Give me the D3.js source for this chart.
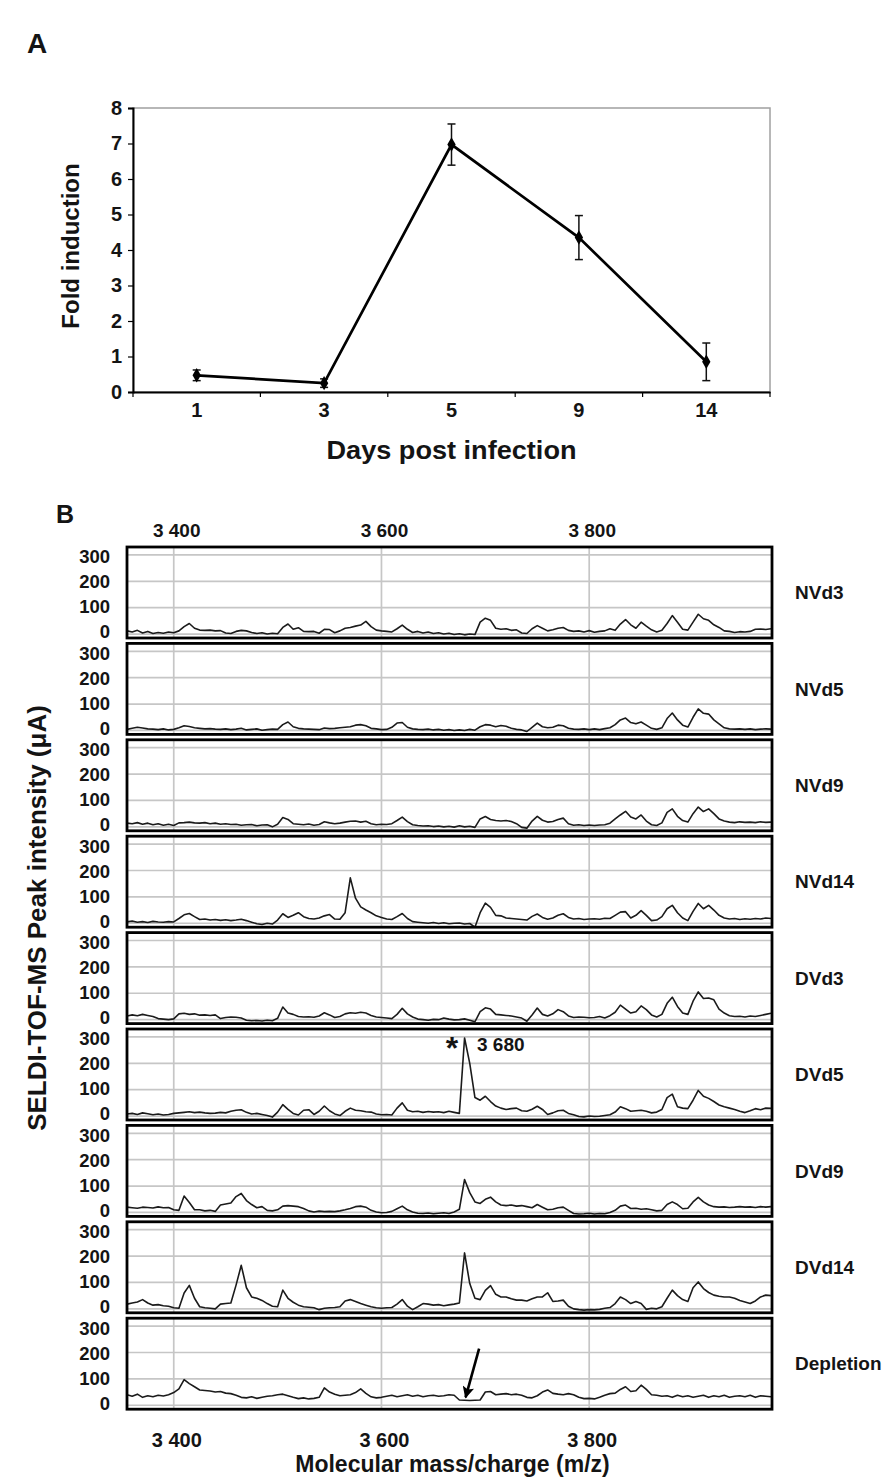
<!DOCTYPE html>
<html><head><meta charset="utf-8">
<script src="https://cdn.jsdelivr.net/npm/d3@7"></script>
<style>
body{margin:0;background:#fff}
svg{display:block}
text{font-family:"Liberation Sans",Arial,Helvetica,sans-serif;font-weight:bold;fill:#141414}
</style>
</head><body>
<svg id="chart" width="896" height="1477"></svg>
<script>
// ---------- Panel A data ----------
const days = ["1","3","5","9","14"];
const foldMean = [0.47, 0.25, 6.97, 4.35, 0.85];
const foldErr  = [0.15, 0.12, 0.58, 0.62, 0.53];
const foldTicks = [0,1,2,3,4,5,6,7,8];

// ---------- Panel B data ----------
const sampleNames = ["NVd3","NVd5","NVd9","NVd14","DVd3","DVd5","DVd9","DVd14","Depletion"];
const intensityTicks = [0,100,200,300];
const mzTicks = [3400,3600,3800];
const mzTickLabels = ["3 400","3 600","3 800"];
const mz = [
3355,3360,3365,3370,3375,3380,3385,3390,3395,3400,
3405,3410,3415,3420,3425,3430,3435,3440,3445,3450,
3455,3460,3465,3470,3475,3480,3485,3490,3495,3500,
3505,3510,3515,3520,3525,3530,3535,3540,3545,3550,
3555,3560,3565,3570,3575,3580,3585,3590,3595,3600,
3605,3610,3615,3620,3625,3630,3635,3640,3645,3650,
3655,3660,3665,3670,3675,3680,3685,3690,3695,3700,
3705,3710,3715,3720,3725,3730,3735,3740,3745,3750,
3755,3760,3765,3770,3775,3780,3785,3790,3795,3800,
3805,3810,3815,3820,3825,3830,3835,3840,3845,3850,
3855,3860,3865,3870,3875,3880,3885,3890,3895,3900,
3905,3910,3915,3920,3925,3930,3935,3940,3945,3950,
3955,3960,3965,3970,3975];
const nvd3 = [
12,8,14,4,10,2,6,3,8,5,
12,28,40,22,15,14,15,12,13,4,
2,10,14,12,6,2,5,0,3,1,
25,38,18,24,10,9,10,3,18,17,
5,12,22,25,30,34,48,28,15,12,
10,8,20,34,18,6,10,4,8,2,
5,0,3,-2,1,-3,0,-2,45,60,
52,22,18,20,14,16,4,2,20,32,
22,12,16,22,25,14,10,12,8,13,
7,10,12,20,14,38,55,35,22,45,
30,16,8,14,40,70,45,18,15,45,
75,58,52,35,25,12,10,6,9,8,
10,18,19,17,20];
const nvd5 = [
4,8,12,9,6,5,3,6,2,4,
10,18,15,10,8,6,7,5,4,6,
3,5,8,2,4,6,1,3,5,4,
22,32,14,8,6,5,4,3,9,7,
8,10,12,14,20,22,18,8,6,3,
4,12,28,30,12,6,4,3,5,2,
4,1,3,0,2,0,4,1,14,22,
20,14,19,16,8,4,2,-4,12,28,
14,10,12,20,18,8,5,4,6,3,
6,3,7,10,22,40,47,30,25,32,
20,8,4,10,45,66,40,20,13,50,
82,65,62,40,25,10,6,5,6,4,
6,3,5,6,5];
const nvd9 = [
14,12,16,10,14,8,12,6,10,5,
15,16,18,15,14,16,12,14,10,12,
9,10,6,8,9,4,7,8,0,10,
35,28,12,10,8,11,6,9,19,15,
12,14,18,21,22,18,21,12,8,10,
9,12,24,37,20,8,5,3,4,1,
3,0,2,-1,4,0,2,-2,30,39,
28,24,22,24,20,12,-2,-5,22,40,
25,18,20,28,33,12,6,8,5,7,
5,7,8,14,30,45,59,37,30,45,
22,8,5,15,55,68,40,24,18,50,
75,58,68,50,30,22,18,16,19,17,
18,16,19,17,18];
const nvd14 = [
5,8,4,6,3,7,5,4,6,5,
18,32,37,25,14,16,12,14,11,13,
10,12,15,10,4,-2,-5,0,-3,12,
36,22,30,40,25,18,16,20,28,33,
16,15,40,172,95,62,50,40,28,22,
16,14,25,37,18,6,4,2,0,3,
-1,2,-2,0,1,-3,-1,-15,40,76,
60,30,28,20,18,16,14,12,26,35,
22,15,20,30,36,22,16,18,14,16,
17,15,19,18,30,42,44,20,30,48,
30,10,12,25,55,68,40,20,10,45,
75,55,68,50,30,20,16,18,14,17,
15,18,16,20,18];
const dvd3 = [
14,18,15,20,16,12,4,2,0,3,
22,24,20,22,17,18,16,18,4,8,
10,9,6,-2,-4,-3,-5,-2,-4,5,
48,25,20,12,10,11,9,14,26,18,
8,12,22,26,24,28,25,16,10,8,
6,4,20,43,22,10,2,0,-2,1,
0,6,2,-1,0,3,-2,-8,30,45,
40,20,18,16,14,10,6,-6,18,44,
20,14,22,38,30,14,8,10,9,7,
8,12,6,15,28,55,40,25,30,52,
38,18,10,20,62,85,50,25,20,70,
105,80,82,75,40,25,15,12,13,10,
14,12,16,20,24];
const dvd5 = [
8,10,6,12,9,5,8,4,6,10,
12,14,16,13,15,12,10,11,14,12,
18,22,24,14,8,10,6,2,-4,15,
43,25,10,4,22,24,6,18,38,20,
8,2,18,30,22,20,16,15,8,5,
6,4,30,50,22,16,18,14,17,15,
16,13,18,14,10,296,200,70,60,75,
55,38,30,25,28,30,20,18,26,37,
25,6,12,20,22,10,5,-2,-3,0,
-2,-1,2,5,15,35,28,18,20,22,
18,12,15,25,70,83,35,30,28,60,
97,75,67,55,42,35,30,25,18,13,
20,28,24,30,29];
const dvd9 = [
20,18,16,20,19,17,21,18,19,10,
8,62,38,10,10,6,8,4,28,32,
36,60,72,45,30,18,22,8,6,10,
24,26,24,22,15,6,2,5,3,4,
3,6,10,15,22,24,20,8,2,-1,
0,4,14,24,10,2,-3,-4,-2,-5,
-3,-1,-4,2,12,125,75,40,34,50,
58,40,28,26,28,24,26,22,18,30,
20,10,12,18,20,8,-4,-6,-5,-3,
-6,-4,-5,0,8,24,28,15,16,12,
14,10,6,8,30,40,30,14,16,40,
57,40,28,22,20,21,19,20,22,20,
21,19,22,20,22];
const dvd14 = [
18,22,26,35,22,14,16,12,10,4,
2,60,89,40,8,4,2,0,18,20,
22,90,165,80,45,40,32,20,10,8,
71,40,25,14,8,6,4,-3,2,4,
5,8,30,35,28,20,14,8,4,2,
4,5,18,35,10,-3,8,20,18,14,
16,12,15,18,22,212,96,40,35,70,
88,55,45,45,38,33,33,30,38,45,
45,61,28,30,33,10,0,-3,-5,-3,
-4,-2,2,5,20,45,35,20,28,20,
-2,2,0,8,40,71,50,35,28,80,
102,77,62,52,48,45,45,40,32,26,
20,30,45,52,50];
const depletion = [
40,34,42,30,36,32,38,35,40,48,
62,97,82,70,58,56,54,50,52,46,
44,38,30,28,32,26,30,34,36,40,
42,36,30,25,28,24,26,30,66,50,
42,36,38,40,48,62,45,32,28,30,
34,38,32,36,40,34,38,32,36,38,
34,36,40,38,20,19,18,19,20,50,
52,40,42,44,40,42,38,30,28,36,
50,58,45,42,40,44,40,30,25,26,
24,30,38,44,46,60,70,52,55,76,
60,40,38,34,36,30,38,32,36,30,
34,38,30,36,32,38,30,34,36,32,
38,30,36,34,32];
const spectra = [nvd3, nvd5, nvd9, nvd14, dvd3, dvd5, dvd9, dvd14, depletion];

const svg = d3.select("#chart");
const defs = svg.append("defs");

// ================= PANEL A =================
svg.append("text").attr("x",27).attr("y",53).attr("font-size",28).text("A");

const xA = d3.scaleBand().domain(days).range([133, 770]);
const yA = d3.scaleLinear().domain([0, 8]).range([392, 108]);
const gA = svg.append("g");

gA.append("rect").attr("x",xA.range()[0]).attr("y",yA(8))
  .attr("width",xA.range()[1]-xA.range()[0]).attr("height",yA(0)-yA(8))
  .attr("fill","none").attr("stroke","#a0a0a0").attr("stroke-width",1.5);

const yAxA = gA.append("g").attr("transform",`translate(${xA.range()[0]},0)`)
  .call(d3.axisLeft(yA).tickValues(foldTicks).tickSize(5).tickPadding(6).tickFormat(d3.format("d")));
yAxA.attr("font-family",null).attr("font-size",null);
yAxA.select(".domain").attr("stroke","#000").attr("stroke-width",2);
yAxA.selectAll(".tick line").attr("stroke","#000").attr("stroke-width",1.2);
yAxA.selectAll(".tick text").attr("font-size",20).attr("fill","#141414");

const xAxA = gA.append("g").attr("transform",`translate(0,${yA(0)})`)
  .call(d3.axisBottom(xA).tickSize(0).tickPadding(11));
xAxA.attr("font-family",null).attr("font-size",null);
xAxA.select(".domain").attr("stroke","#000").attr("stroke-width",2);
xAxA.selectAll(".tick text").attr("font-size",20).attr("fill","#141414");
gA.selectAll(".btick").data(days.map(d=>xA(d)).concat([xA.range()[1]]))
  .join("line").attr("x1",d=>d).attr("x2",d=>d)
  .attr("y1",yA(0)).attr("y2",yA(0)+5).attr("stroke","#000").attr("stroke-width",1.2);

const ptsA = days.map((d,i)=>({day:d, v:foldMean[i], e:foldErr[i]}));
const cx = d => xA(d.day) + xA.bandwidth()/2;
const eb = gA.selectAll(".eb").data(ptsA).join("g");
eb.append("line").attr("x1",cx).attr("x2",cx).attr("y1",d=>yA(d.v-d.e)).attr("y2",d=>yA(d.v+d.e))
  .attr("stroke","#111").attr("stroke-width",1.5);
eb.append("line").attr("x1",d=>cx(d)-4).attr("x2",d=>cx(d)+4).attr("y1",d=>yA(d.v+d.e)).attr("y2",d=>yA(d.v+d.e))
  .attr("stroke","#111").attr("stroke-width",1.5);
eb.append("line").attr("x1",d=>cx(d)-4).attr("x2",d=>cx(d)+4).attr("y1",d=>yA(d.v-d.e)).attr("y2",d=>yA(d.v-d.e))
  .attr("stroke","#111").attr("stroke-width",1.5);
gA.append("path").datum(ptsA)
  .attr("d", d3.line().x(cx).y(d=>yA(d.v)))
  .attr("fill","none").attr("stroke","#000").attr("stroke-width",2.7);
gA.selectAll(".mk").data(ptsA).join("path")
  .attr("transform",d=>`translate(${cx(d)},${yA(d.v)})`)
  .attr("d", d3.symbol(d3.symbolDiamond, 60)).attr("fill","#000");

gA.append("text").attr("transform",`translate(79,246) rotate(-90)`)
  .attr("text-anchor","middle").attr("font-size",24).text("Fold induction");
gA.append("text").attr("x",(xA.range()[0]+xA.range()[1])/2).attr("y",459)
  .attr("text-anchor","middle").attr("font-size",25)
  .attr("textLength",250).attr("lengthAdjust","spacingAndGlyphs").text("Days post infection");

// ================= PANEL B =================
svg.append("text").attr("x",56).attr("y",523).attr("font-size",25).text("B");

const xB = d3.scaleLinear().domain([3355, 3976]).range([127, 772]);
const panelTop0 = 547, panelStep = 96.4, panelH = 91;

svg.selectAll(".tlab").data(mzTicks).join("text")
  .attr("x",d=>xB(d)+3).attr("y",537).attr("text-anchor","middle").attr("font-size",19)
  .text((d,i)=>mzTickLabels[i]);

sampleNames.forEach((name, i) => {
  const top = panelTop0 + i*panelStep;
  const y = d3.scaleLinear().domain([-15, 330]).range([top+panelH, top]);
  // label positions (labels sit slightly inside the outer gridlines, as in the original)
  const yLab = d3.scaleLinear().domain([0, 300]).range([top+85, top+10]);
  const g = svg.append("g");
  const clipId = "clip"+i;
  defs.append("clipPath").attr("id",clipId).append("rect")
    .attr("x",xB.range()[0]).attr("y",top).attr("width",xB.range()[1]-xB.range()[0]).attr("height",panelH);

  g.selectAll(".hg").data(intensityTicks).join("line")
    .attr("x1",xB.range()[0]).attr("x2",xB.range()[1]).attr("y1",d=>y(d)).attr("y2",d=>y(d))
    .attr("stroke","#c6c6c6").attr("stroke-width",1.7);
  g.selectAll(".vg").data(mzTicks).join("line")
    .attr("x1",d=>xB(d)).attr("x2",d=>xB(d)).attr("y1",top).attr("y2",top+panelH)
    .attr("stroke","#c6c6c6").attr("stroke-width",1.7);

  g.append("path").datum(spectra[i]).attr("clip-path",`url(#${clipId})`)
    .attr("d", d3.line().x((d,j)=>xB(mz[j])).y(d=>y(d)))
    .attr("fill","none").attr("stroke","#1b1b1b").attr("stroke-width",1.6).attr("stroke-linejoin","round");

  g.append("rect").attr("x",xB.range()[0]).attr("y",top)
    .attr("width",xB.range()[1]-xB.range()[0]).attr("height",panelH)
    .attr("fill","none").attr("stroke","#000").attr("stroke-width",2.8);

  g.selectAll(".yl").data(intensityTicks).join("text")
    .attr("x",110).attr("y",d=>yLab(d)).attr("dy","0.35em").attr("text-anchor","end").attr("font-size",18.5)
    .text(d=>d);

  g.append("text").attr("x",795).attr("y",top+panelH/2).attr("dy","0.35em").attr("font-size",19).text(name);

  if (name === "DVd5") {
    g.append("text").attr("x",xB(3668)).attr("y",y(300)+22).attr("text-anchor","middle")
      .attr("font-size",32).attr("font-weight","normal").text("*");
    g.append("text").attr("x",xB(3692)).attr("y",y(270)).attr("dy","0.35em").attr("font-size",19).text("3 680");
  }
  if (name === "Depletion") {
    defs.append("marker").attr("id","arrowhead").attr("viewBox","0 0 10 10")
      .attr("refX",9).attr("refY",5).attr("markerWidth",5).attr("markerHeight",4.5)
      .attr("orient","auto").attr("markerUnits","strokeWidth")
      .append("path").attr("d","M0,0 L10,5 L0,10 L2,5 z").attr("fill","#000");
    g.append("line").attr("x1",xB(3694)).attr("y1",y(215)).attr("x2",xB(3681)).attr("y2",y(30))
      .attr("stroke","#000").attr("stroke-width",2.6).attr("marker-end","url(#arrowhead)");
  }
});

const lastTop = panelTop0 + (sampleNames.length-1)*panelStep;
svg.selectAll(".blab").data(mzTicks).join("text")
  .attr("x",d=>xB(d)+3).attr("y",lastTop+panelH+38).attr("text-anchor","middle").attr("font-size",20)
  .text((d,i)=>mzTickLabels[i]);

svg.append("text").attr("x",(xB.range()[0]+xB.range()[1])/2+3).attr("y",lastTop+panelH+63)
  .attr("text-anchor","middle").attr("font-size",23).text("Molecular mass/charge (m/z)");

svg.append("text").attr("transform",`translate(46,918) rotate(-90)`)
  .attr("text-anchor","middle").attr("font-size",26).text("SELDI-TOF-MS Peak intensity (μA)");
</script>
</body></html>
